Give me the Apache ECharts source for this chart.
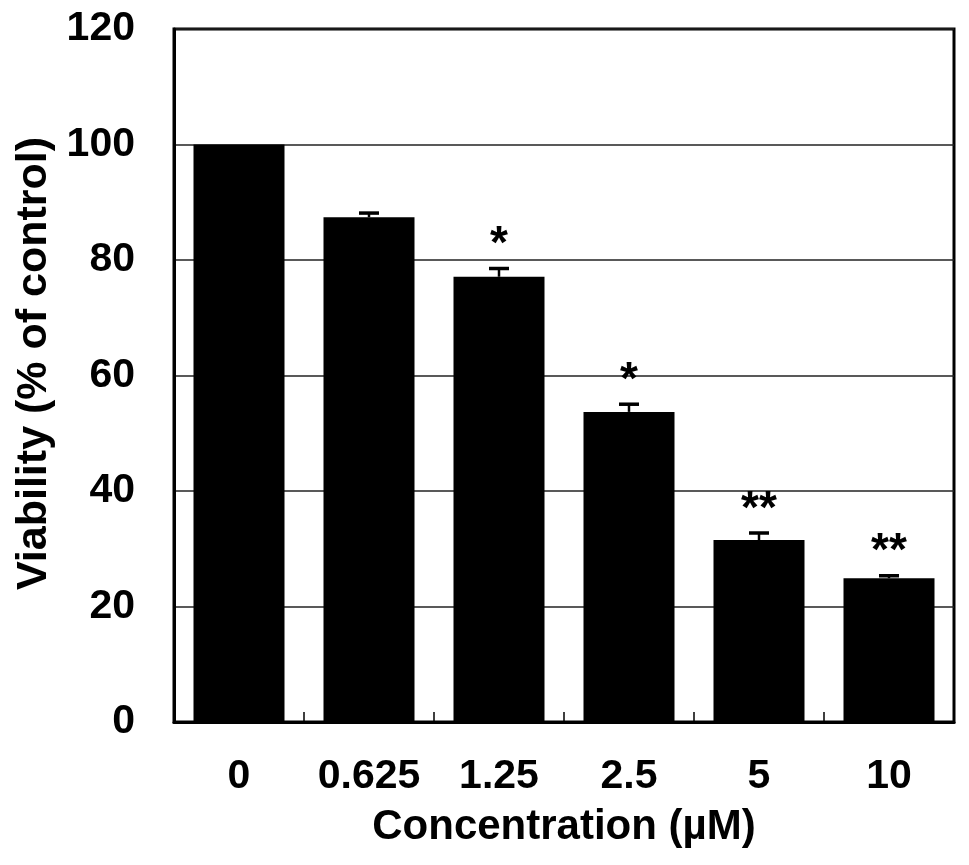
<!DOCTYPE html>
<html>
<head>
<meta charset="utf-8">
<script src="https://cdn.jsdelivr.net/npm/echarts@6/dist/echarts.min.js"></script>
<style>
html,body{margin:0;padding:0;background:#fff;}
#chart{width:969px;height:865px;}
</style>
</head>
<body>
<div id="chart"></div>
<script>
var categories = ['0', '0.625', '1.25', '2.5', '5', '10'];
var viability = [100, 87.4, 77.1, 53.7, 31.5, 24.9];
var errorUp = [0, 0.9, 1.6, 1.5, 1.4, 0.6];
var significance = ['', '', '*', '*', '**', '**'];
var yTicks = [0, 20, 40, 60, 80, 100, 120];

var FONT = "'Liberation Sans', Arial, sans-serif";

var errData = categories.map(function (c, i) {
  return [i, viability[i], errorUp[i], significance[i]];
});

var chart = echarts.init(document.getElementById('chart'));
chart.setOption({
  backgroundColor: '#fff',
  animation: false,
  grid: {
    left: 174, right: 15, top: 29, bottom: 143,
    show: true, borderColor: '#000', borderWidth: 3, backgroundColor: 'transparent'
  },
  xAxis: {
    type: 'category',
    data: categories,
    name: 'Concentration (\u00b5M)',
    nameLocation: 'middle',
    nameGap: 84,
    nameTextStyle: { fontFamily: FONT, fontWeight: 'bold', fontSize: 42, color: '#000' },
    axisLine: { show: true, lineStyle: { color: '#000', width: 3 } },
    axisTick: { show: true, inside: true, length: 10, interval: 0, lineStyle: { color: '#000', width: 1.5 } },
    axisLabel: { interval: 0, fontFamily: FONT, fontWeight: 'bold', fontSize: 41, color: '#000', margin: 34 },
    splitLine: { show: false }
  },
  yAxis: {
    type: 'value',
    min: yTicks[0], max: yTicks[yTicks.length - 1], interval: yTicks[1] - yTicks[0],
    name: 'Viability (% of control)',
    nameLocation: 'middle',
    nameGap: 118,
    nameTextStyle: { fontFamily: FONT, fontWeight: 'bold', fontSize: 43, color: '#000', padding: [0, 0, 0, 24] },
    axisLine: { show: true, lineStyle: { color: '#000', width: 3 } },
    axisTick: { show: false },
    axisLabel: { fontFamily: FONT, fontWeight: 'bold', fontSize: 41, color: '#000', margin: 39 },
    splitLine: { show: true, lineStyle: { color: '#222', width: 1.5 } }
  },
  series: [
    {
      type: 'bar',
      data: viability,
      barWidth: '70%',
      itemStyle: { color: '#000' },
      z: 2
    },
    {
      type: 'custom',
      data: errData,
      encode: { x: 0, y: 1 },
      z: 3,
      renderItem: function (params, api) {
        var idx = api.value(0);
        var mean = api.value(1);
        var err = api.value(2);
        var sig = significance[idx];
        var base = api.coord([idx, mean]);
        var top = api.coord([idx, mean + err]);
        var children = [];
        if (err > 0) {
          children.push({
            type: 'line',
            shape: { x1: base[0], y1: base[1], x2: top[0], y2: top[1] },
            style: { stroke: '#000', lineWidth: 2.5 }
          });
          children.push({
            type: 'line',
            shape: { x1: top[0] - 10, y1: top[1] + 1, x2: top[0] + 10, y2: top[1] + 1 },
            style: { stroke: '#000', lineWidth: 3.5 }
          });
        }
        if (sig) {
          children.push({
            type: 'text',
            x: top[0],
            y: top[1] - 22,
            style: {
              text: sig,
              fontFamily: FONT,
              fontWeight: 'bold',
              fontSize: 46,
              fill: '#000',
              align: 'center',
              verticalAlign: 'middle'
            }
          });
        }
        return { type: 'group', children: children };
      }
    }
  ]
});
</script>
</body>
</html>
